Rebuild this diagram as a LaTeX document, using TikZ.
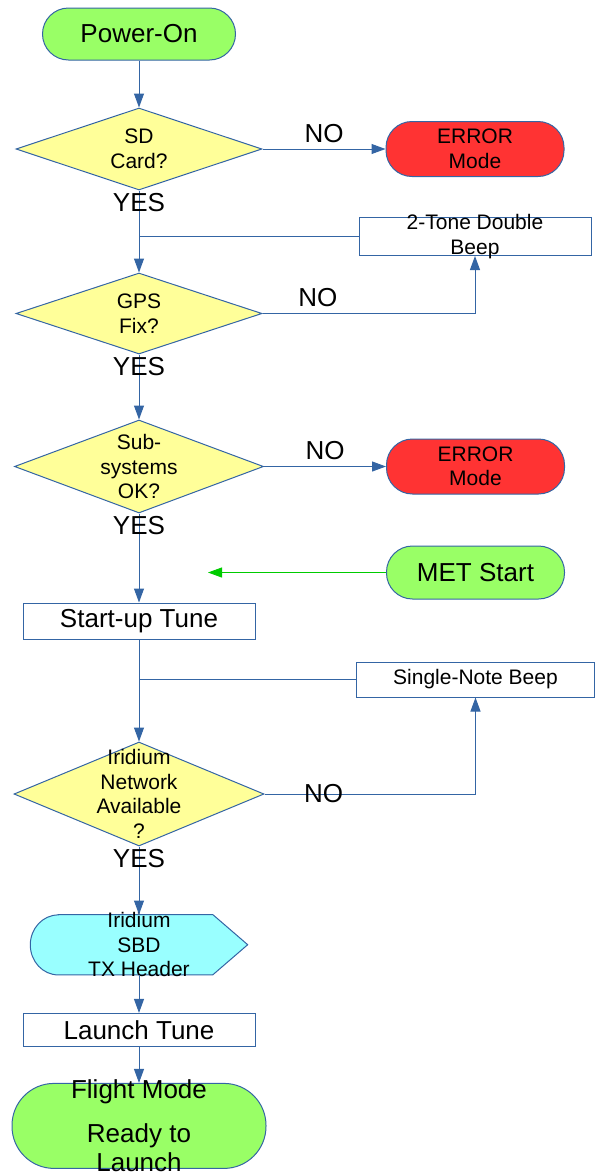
\documentclass[tikz,border=0pt]{standalone}
\usepackage{fontspec}
\setmainfont{Liberation Sans}
\usetikzlibrary{arrows.meta,positioning,shapes.geometric,backgrounds}
\definecolor{FlowBlue}{RGB}{52,101,164}
\definecolor{PillGreen}{RGB}{153,255,102}
\definecolor{ErrRed}{RGB}{255,51,51}
\definecolor{DecYellow}{RGB}{255,255,153}
\definecolor{SbdCyan}{RGB}{153,255,255}
\definecolor{MetGreen}{RGB}{0,204,0}
\newcommand{\bigtxt}{\fontsize{26}{29}\selectfont}
\newcommand{\smalltxt}{\fontsize{21}{24.5}\selectfont}
\tikzset{
  pill/.style={rectangle, rounded corners=26pt, draw=FlowBlue, fill=#1,
               line width=1pt, inner sep=0pt, align=center,
               minimum width=178pt, minimum height=55pt},
  dec/.style={diamond, draw=FlowBlue, fill=DecYellow, line width=1pt, inner sep=0pt},
  tbox/.style={rectangle, draw=FlowBlue, fill=white, line width=1pt,
               inner sep=0pt, align=center},
  dtxt/.style={align=center, font=\smalltxt, inner sep=0pt},
  yn/.style={font=\bigtxt, inner sep=2pt},
  arr/.style={-{Triangle[length=14pt,width=10pt]}, draw=FlowBlue, line width=1pt},
  garr/.style={-{Triangle[length=14pt,width=10pt]}, draw=MetGreen, line width=1pt},
  link/.style={draw=FlowBlue, line width=1pt},
}
\begin{document}
\begin{tikzpicture}[x=1pt, y=1pt]
  \useasboundingbox (0,0) rectangle (595,-1173);
  % main column
  \node[pill=PillGreen, minimum width=193pt, minimum height=52pt, font=\bigtxt] (pwr) at (139,-34) {Power-On};
  \node[dec, minimum width=246pt, minimum height=82pt, below=47pt of pwr,
        label={[dtxt]center:{SD\\Card?}}] (sd) {};
  \node[dec, minimum width=246pt, minimum height=81pt, below=82pt of sd,
        label={[dtxt]center:{GPS\\Fix?}}] (gps) {};
  \node[dec, minimum width=249pt, minimum height=93pt, below=65pt of gps,
        label={[dtxt]center:{Sub-\\systems\\OK?}}] (sub) {};
  \node[tbox, minimum width=232pt, minimum height=36pt, below=89pt of sub, font=\bigtxt] (stt) {Start-up Tune};
  \node[dec, minimum width=250pt, minimum height=104pt, below=102pt of stt,
        label={[dtxt]center:{Iridium\\Network\\Available\\?}}] (iri) {};
  \node[minimum width=217pt, minimum height=60pt, inner sep=0pt, below=68pt of iri,
        label={[dtxt]center:{Iridium\\SBD\\TX Header}}] (sbd) {};
  \node[tbox, minimum width=232pt, minimum height=33pt, below=38pt of sbd, font=\bigtxt] (lnch) {Launch Tune};
  \node[pill=PillGreen, rounded corners=42pt, minimum width=254pt, minimum height=85pt, below=36pt of lnch,
        label={[align=center, font=\bigtxt, inner sep=0pt]center:{Flight Mode\\[15pt]Ready to\\Launch}}] (flt) {};
  % side column
  \node[pill=ErrRed, right=123pt of sd, font=\smalltxt] (err1) {ERROR\\Mode};
  \node[tbox, minimum width=232pt, minimum height=38pt, below=40pt of err1,
        label={[dtxt]center:{2-Tone Double\\Beep}}] (beep2) {};
  \node[pill=ErrRed, right=122pt of sub, font=\smalltxt] (err2) {ERROR\\Mode};
  \node[pill=PillGreen, minimum height=53pt, below=51pt of err2, font=\bigtxt] (met) {MET Start};
  \node[tbox, minimum width=238pt, minimum height=35pt, below=62pt of met, font=\smalltxt] (beep1) {Single-Note Beep};
  \coordinate[left=178pt of met] (metend);
  % shape behind the Iridium SBD text
  \begin{scope}[on background layer]
    \draw[draw=FlowBlue, fill=SbdCyan, line width=1pt]
      ([xshift=28pt]sbd.north west) -- ([xshift=-35pt]sbd.north east) -- (sbd.east)
      -- ([xshift=-35pt]sbd.south east) -- ([xshift=28pt]sbd.south west)
      arc[start angle=270, end angle=90, x radius=28pt, y radius=30pt] -- cycle;
  \end{scope}
  % connectors
  \draw[arr] (pwr) -- (sd);
  \draw[arr] (sd) -- node[yn, above=4pt] {NO} (err1);
  \draw[arr] (sd) -- node[yn, pos=0, below] {YES} (gps);
  \draw[link] (beep2) -- (beep2 -| sd);
  \draw[arr] (gps) -- node[yn, above=4pt, pos=.26] {NO} (gps -| beep2) -- (beep2);
  \draw[arr] (gps) -- node[yn, pos=0, below] {YES} (sub);
  \draw[arr] (sub) -- node[yn, above=4pt] {NO} (err2);
  \draw[arr] (sub) -- node[yn, pos=0, below] {YES} (stt);
  \draw[garr] (met) -- (metend);
  \draw[arr] (stt) -- (iri);
  \draw[link] (beep1) -- (beep1 -| iri);
  \draw[arr] (iri) -- node[yn, pos=.28] {NO} (iri -| beep1) -- (beep1);
  \draw[arr] (iri) -- node[yn, pos=0, below] {YES} (sbd);
  \draw[arr] (sbd) -- (lnch);
  \draw[arr] (lnch) -- (flt);
\end{tikzpicture}
\end{document}
